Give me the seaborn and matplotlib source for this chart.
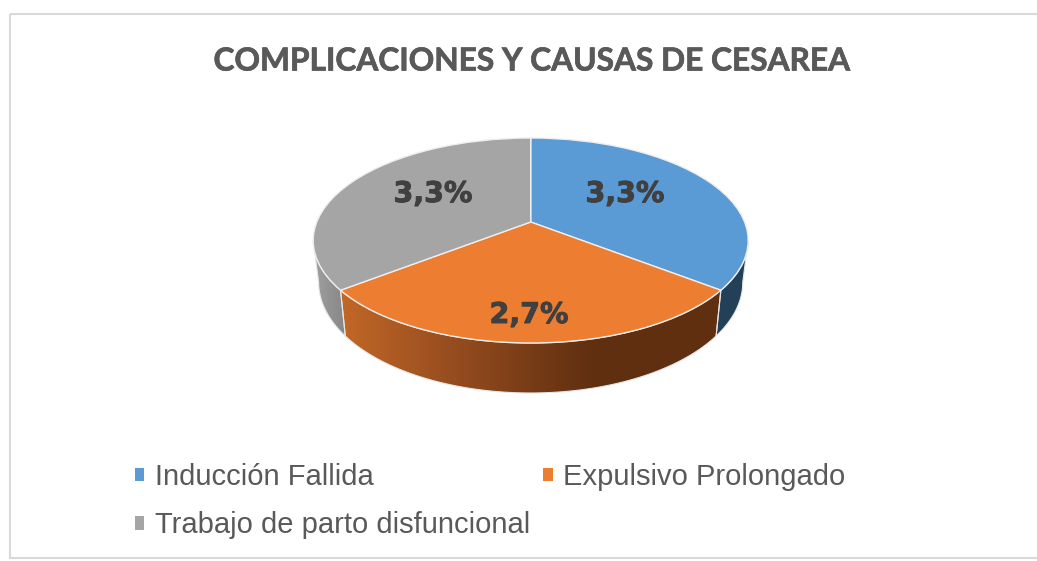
import numpy as np
import matplotlib
matplotlib.use('Agg')
import matplotlib.pyplot as plt
import matplotlib.patheffects as pe
from matplotlib.colors import LinearSegmentedColormap
from matplotlib.patches import Patch, Polygon, Rectangle
from matplotlib.transforms import Transform
import seaborn as sns

title = 'COMPLICACIONES Y CAUSAS DE CESAREA'
categories = ['Inducción Fallida', 'Expulsivo Prolongado', 'Trabajo de parto disfuncional']
values = [3.3, 2.7, 3.3]
top_colors = ['#5b9bd5', '#ed7d31', '#a5a5a5']
wall_colors = [['#234058', '#234058'], ['#c26727', '#90491d', '#5f2f10', '#5f2f10'], ['#a0a0a0', '#868686']]
label_pos = [(625, 194), (529, 315), (433, 194)]


class DiscView(Transform):
    """unit disc seen in perspective, output in image pixels"""
    input_dims = 2
    output_dims = 2

    def __init__(self, sx=1.0, sy=1.0, drop=0.0):
        super().__init__()
        self.sx, self.sy, self.drop = sx, sy, drop

    def transform_non_affine(self, values):
        values = np.asarray(values, dtype=float)
        u, v = values[:, 0], values[:, 1]
        d = 1 + 0.1805 * v
        x = 530.7 + self.sx * 213.9 * u / d
        y = 240.5 - self.sy * (102.5 * v + 18.5) / d + self.drop
        return np.column_stack([x, y])


def draw_wall(ax, t1, t2, colors):
    # t is degrees clockwise from the top; only the front of the rim is seen
    t1, t2 = max(t1, 100.4), min(t2, 259.6)
    if t2 <= t1:
        return
    t = np.radians(np.linspace(t1, t2, 80))
    circle = np.column_stack([np.sin(t), np.cos(t)])
    pts = np.vstack([rim.transform(circle), base.transform(circle)[::-1]])
    poly = Polygon(pts, closed=True, fc='none', ec='#e6e6e6', lw=0.8, zorder=3)
    ax.add_patch(poly)
    cmap = LinearSegmentedColormap.from_list('wall', colors)
    im = ax.imshow(np.linspace(0, 1, 256)[None, :], cmap=cmap, aspect='auto', zorder=2,
                   extent=(pts[:, 0].min(), pts[:, 0].max(), pts[:, 1].max(), pts[:, 1].min()))
    im.set_clip_path(poly)


sns.set_theme(style='white')
plt.rcParams['font.family'] = ['Liberation Sans', 'DejaVu Sans']
palette = sns.color_palette(top_colors)

fig = plt.figure(figsize=(10.37, 5.61), dpi=100)
ax = fig.add_axes([0, 0, 1, 1])

rim = DiscView()
base = DiscView(sx=0.975, sy=1.08, drop=41.8)

wedges, _ = ax.pie(values, colors=palette, startangle=90, counterclock=False,
                   wedgeprops=dict(edgecolor='#eeeeee', linewidth=1.0))
for w in wedges:
    w.set_transform(rim + ax.transData)
    w.set_zorder(4)

edges = np.cumsum([0] + values) / sum(values) * 360
for i in range(len(values)):
    draw_wall(ax, edges[i], edges[i + 1], wall_colors[i])

for v, pos in zip(values, label_pos):
    ax.text(pos[0], pos[1], f'{v:.1f}%'.replace('.', ','), ha='center', va='center',
            fontsize=20.5, fontweight='bold', family='DejaVu Sans', color='#404040', zorder=5,
            path_effects=[pe.withStroke(linewidth=0.7, foreground='#404040')])

ax.text(531, 61, title, ha='center', va='center', fontsize=22.8, fontweight='bold',
        family='Lato', color='#595959',
        path_effects=[pe.withStroke(linewidth=0.5, foreground='#595959')])

ax.add_patch(Rectangle((10, 14), 1100, 544, fc='none', ec='#d9d9d9', lw=1.5, zorder=1))

# legend fills by column, so the third entry goes second to read row by row
order = [0, 2, 1]
handles = [Patch(fc=palette[i], ec='none', label=categories[i]) for i in order]
ax.legend(handles=handles, ncols=2, frameon=False, fontsize=21, labelcolor='#595959',
          loc='upper left', bbox_to_anchor=(135, 463), bbox_transform=ax.transData,
          handlelength=0.32, handleheight=0.32, handletextpad=0.36, columnspacing=0.45,
          labelspacing=0.7, borderpad=0, borderaxespad=0)

ax.set_aspect('auto')
ax.set_xlim(0, 1037)
ax.set_ylim(561, 0)
ax.set_axis_off()

fig.savefig('out.png', dpi=100)
